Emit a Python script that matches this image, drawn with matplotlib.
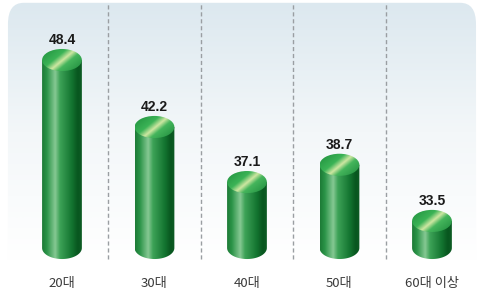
import matplotlib.pyplot as plt
import numpy as np
from matplotlib.patches import Ellipse, FancyBboxPatch, PathPatch
from matplotlib.path import Path
from matplotlib.colors import LinearSegmentedColormap

plt.rcParams['font.family'] = ['Noto Sans CJK KR', 'DejaVu Sans']

# 데이터
categories = ['20대', '30대', '40대', '50대', '60대 이상']
values = [48.4, 42.2, 37.1, 38.7, 33.5]
labels = ['48.4', '42.2', '37.1', '38.7', '33.5']

base = 31.0          # 원기둥 바닥 값
bar_w = 0.43         # 원기둥 폭 (x 단위)
ell_h = 2.05         # 타원 높이 (y 단위)

fig = plt.figure(figsize=(4.81, 3.04), dpi=100)
ax = fig.add_axes([0, 0, 1, 1])
ax.set_xlim(-0.670, 4.530)
ax.set_ylim(25.81, 53.96)
ax.axis('off')

# 배경 패널 (위쪽 연한 하늘색 -> 아래 흰색)
bg_cmap = LinearSegmentedColormap.from_list('bg', ['#ffffff', '#f3f7f9', '#dce8ef'])
panel = FancyBboxPatch((-0.584, 24.0), 5.06, 29.7,
                       boxstyle='round,pad=0,rounding_size=0.17',
                       mutation_aspect=11.6, facecolor='none', edgecolor='none')
ax.add_patch(panel)
grad = np.linspace(0, 1, 256).reshape(-1, 1)
im = ax.imshow(grad, extent=[-0.67, 4.53, 29.8, 53.7], origin='lower',
               cmap=bg_cmap, aspect='auto', zorder=0)
im.set_clip_path(panel)

# 점선 구분선
for i in range(len(categories) - 1):
    ax.plot([i + 0.5, i + 0.5], [30.0, 53.6], color='#9a9ea2', lw=1.0,
            ls=(0, (3, 2)), zorder=1)

body_cmap = LinearSegmentedColormap.from_list(
    'body', [(0, '#1d7a36'), (0.12, '#2b9448'), (0.33, '#86c893'),
             (0.45, '#3da257'), (0.75, '#137430'), (0.9, '#08561f'), (1, '#0d5c24')])
top_cmap = LinearSegmentedColormap.from_list(
    'top', [(0, '#1e8e3c'), (0.38, '#3bb356'), (0.52, '#cfe7a2'),
            (0.64, '#45b55c'), (1, '#1d8a3c')])

t = np.linspace(np.pi, 2 * np.pi, 60)
for i, v in enumerate(values):
    x0, x1 = i - bar_w / 2, i + bar_w / 2
    # 몸통
    arc_x = i + bar_w / 2 * np.cos(t)
    arc_y = base + ell_h / 2 * np.sin(t)
    verts = [(x0, v)] + list(zip(arc_x, arc_y)) + [(x1, v), (x0, v)]
    body = PathPatch(Path(verts), facecolor='none', edgecolor='none')
    ax.add_patch(body)
    g = np.linspace(0, 1, 200).reshape(1, -1)
    bim = ax.imshow(g, extent=[x0, x1, base - ell_h, v], cmap=body_cmap,
                    aspect='auto', zorder=2)
    bim.set_clip_path(body)
    # 윗면
    top = Ellipse((i, v), bar_w, ell_h, facecolor='none', edgecolor='none')
    ax.add_patch(top)
    xx, yy = np.meshgrid(np.linspace(0, 1, 100), np.linspace(0, 1, 100))
    d = np.clip((xx - yy * 0.7 + 0.7) / 1.7, 0, 1)
    tim = ax.imshow(d, extent=[x0, x1, v - ell_h / 2, v + ell_h / 2], origin='lower',
                    cmap=top_cmap, aspect='auto', zorder=3)
    tim.set_clip_path(top)
    # 값 라벨
    ax.text(i, v + ell_h / 2 + 0.2, labels[i], ha='center', va='bottom',
            fontsize=10, fontweight='bold', color='#1a1a1a',
            family=['Liberation Sans', 'DejaVu Sans'], zorder=4)

# 카테고리 라벨
for i, c in enumerate(categories):
    ax.text(i, 27.7, c, ha='center', va='center', fontsize=9.5, color='#3a3a3a',
            zorder=4)

fig.savefig('out.png', dpi=100)
